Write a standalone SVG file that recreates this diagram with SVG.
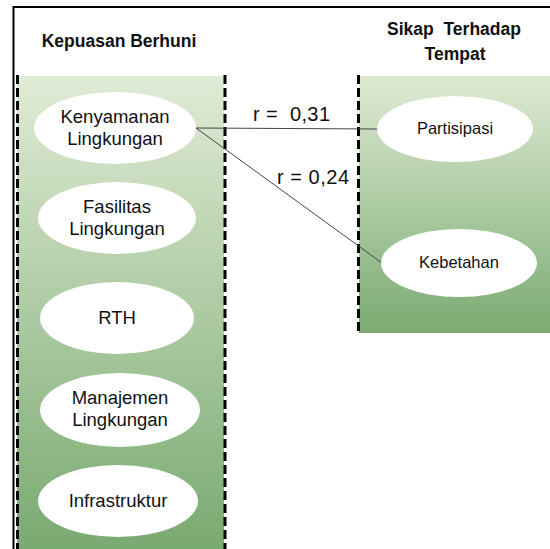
<svg xmlns="http://www.w3.org/2000/svg" width="550" height="549" viewBox="0 0 550 549">
<defs>
<linearGradient id="gL" x1="0" y1="0" x2="0" y2="1">
<stop offset="0" stop-color="#e0ebd5"/>
<stop offset="1" stop-color="#79aa71"/>
</linearGradient>
<linearGradient id="gR" x1="0" y1="0" x2="0" y2="1">
<stop offset="0" stop-color="#dfead3"/>
<stop offset="1" stop-color="#7aab72"/>
</linearGradient>
<style>
.t{font-family:"Liberation Sans",Arial,sans-serif;fill:#111;text-anchor:middle;white-space:pre}
.h{font-weight:bold;font-size:17.5px}
.n{font-size:18.5px}
.s{font-size:16.5px}
.r{font-size:20px;text-anchor:start}
.d{stroke:#000;stroke-width:3;stroke-dasharray:9,4;fill:none}
.e{fill:#fff}
.c{stroke:#444;stroke-width:1;fill:none}
</style>
</defs>
<rect width="550" height="549" fill="#fff"/>
<g id="frame">
<line x1="13" y1="7" x2="550" y2="7" stroke="#000" stroke-width="2"/>
<line x1="13.5" y1="6" x2="13.5" y2="549" stroke="#000" stroke-width="2"/>
</g>
<g id="left-panel">
<rect x="17" y="76" width="207" height="473" fill="url(#gL)"/>
<line class="d" x1="17.5" y1="75" x2="17.5" y2="549"/>
<line class="d" x1="225" y1="75" x2="225" y2="549"/>
<text class="t h" x="119" y="47">Kepuasan Berhuni</text>
</g>
<g id="right-panel">
<rect x="359" y="76" width="191" height="257" fill="url(#gR)"/>
<line class="d" x1="358.5" y1="75" x2="358.5" y2="334"/>
<text class="t h" x="454" y="35" xml:space="preserve">Sikap  Terhadap</text>
<text class="t h" x="455" y="60">Tempat</text>
</g>
<g id="connectors">
<line class="c" x1="196" y1="128" x2="378" y2="129"/>
<line class="c" x1="196" y1="128" x2="382" y2="263"/>
<text class="t r" x="253" y="121" xml:space="preserve" textLength="77">r =  0,31</text>
<text class="t r" x="277" y="184" textLength="72">r = 0,24</text>
</g>
<g id="kenyamanan">
<ellipse class="e" cx="115" cy="128" rx="81" ry="36"/>
<text class="t n" x="115" y="123">Kenyamanan</text>
<text class="t n" x="115" y="145">Lingkungan</text>
</g>
<g id="fasilitas">
<ellipse class="e" cx="117" cy="218" rx="79" ry="36"/>
<text class="t n" x="117" y="213">Fasilitas</text>
<text class="t n" x="117" y="235">Lingkungan</text>
</g>
<g id="rth">
<ellipse class="e" cx="117" cy="318" rx="77" ry="36"/>
<text class="t n" x="117" y="324">RTH</text>
</g>
<g id="manajemen">
<ellipse class="e" cx="120" cy="410" rx="80" ry="37"/>
<text class="t n" x="120" y="404">Manajemen</text>
<text class="t n" x="120" y="426">Lingkungan</text>
</g>
<g id="infrastruktur">
<ellipse class="e" cx="118" cy="501" rx="80" ry="36"/>
<text class="t n" x="118" y="507">Infrastruktur</text>
</g>
<g id="partisipasi">
<ellipse class="e" cx="455" cy="129" rx="78" ry="33"/>
<text class="t s" x="455" y="134">Partisipasi</text>
</g>
<g id="kebetahan">
<ellipse class="e" cx="459" cy="263" rx="78" ry="34"/>
<text class="t s" x="459" y="268">Kebetahan</text>
</g>
</svg>
